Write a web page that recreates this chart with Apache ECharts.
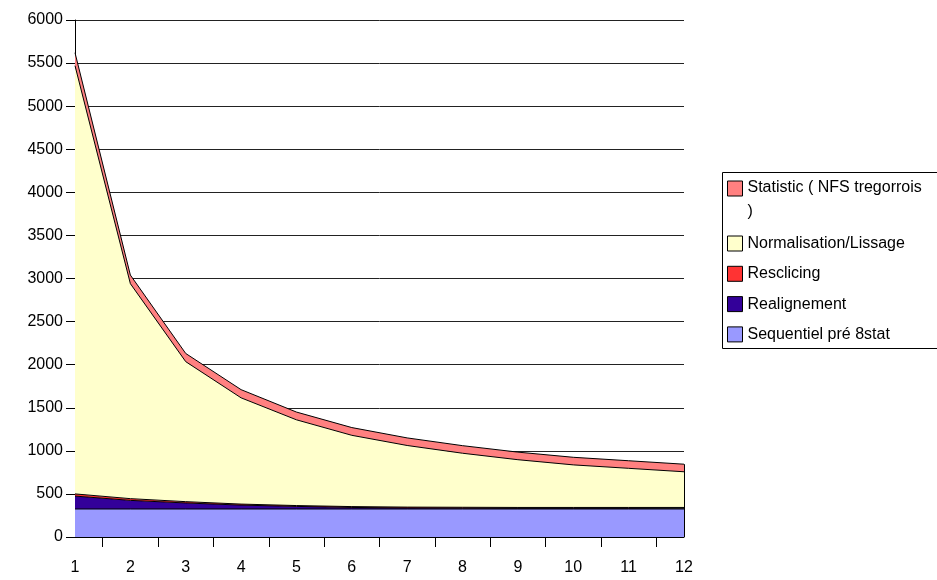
<!DOCTYPE html>
<html>
<head>
<meta charset="utf-8">
<script src="https://cdn.jsdelivr.net/npm/echarts@6/dist/echarts.min.js"></script>
<style>
html,body{margin:0;padding:0;background:#fff;}
#c{width:937px;height:580px;}
</style>
</head>
<body>
<div id="c"></div>
<script>
// ---- data ----
const categories = ['1','2','3','4','5','6','7','8','9','10','11','12'];
const seqValues = [325, 325, 325, 325, 325, 325, 325, 325, 325, 325, 325, 325];
const realignValues = [150, 100, 70, 45, 30, 18, 12, 10, 8, 8, 8, 8];
const resclicingValues = [25, 20, 15, 12, 10, 10, 10, 10, 10, 10, 10, 10];
const normalisationValues = [4970, 2495, 1625, 1233, 995, 827, 715, 627, 554, 494, 454, 414];
const statisticValues = [150, 100, 95, 95, 90, 90, 88, 88, 88, 88, 88, 88];
const yMin = 0, yMax = 6000, yStep = 500;

const seriesNames = ['Sequentiel pré 8stat', 'Realignement', 'Resclicing', 'Normalisation/Lissage', 'Statistic ( NFS tregorrois )'];
const seriesValues = [seqValues, realignValues, resclicingValues, normalisationValues, statisticValues];
const fills = ['#9999FF', '#330099', '#FF3333', '#FFFFCC', '#FF8080'];

// ---- helpers ----
const lastIdx = categories.length - 1;
const lastTotal = seriesValues.reduce((s, arr) => s + arr[lastIdx], 0);
// half-step category axis used only to place ticks between categories
const halfCats = [];
categories.forEach((c, i) => { halfCats.push(c); if (i < lastIdx) halfCats.push(''); });

const axisFont = "'Liberation Sans', Arial, sans-serif";
const legendFont = "'Liberation Sans', Arial, sans-serif";

const series = seriesNames.map((name, i) => {
  const s = {
    name: name,
    type: 'line',
    stack: 'total',
    data: seriesValues[i],
    symbol: 'none',
    smooth: false,
    lineStyle: { color: '#000', width: 1 },
    itemStyle: { color: fills[i] },
    areaStyle: { color: fills[i], opacity: 1 },
    emphasis: { disabled: true },
    silent: true,
    xAxisIndex: 0,
    yAxisIndex: 0
  };
  if (i === 0) {
    s.markLine = {
      silent: true,
      symbol: ['none', 'none'],
      label: { show: false },
      lineStyle: { color: '#000', width: 1, type: 'solid' },
      data: [[{ coord: [categories[lastIdx], 0] }, { coord: [categories[lastIdx], lastTotal] }]]
    };
  }
  return s;
});

const legendItem = (i) => ({
  name: seriesNames[i],
  itemStyle: { color: fills[i], borderColor: '#000', borderWidth: 1 }
});

const chart = echarts.init(document.getElementById('c'), null, { renderer: 'canvas' });
chart.setOption({
  animation: false,
  backgroundColor: '#fff',
  grid: { left: 75, right: 253, top: 20, bottom: 43, containLabel: false },
  xAxis: [
    {
      type: 'category',
      position: 'bottom',
      data: categories,
      boundaryGap: false,
      axisLine: { show: true, lineStyle: { color: '#000', width: 1 } },
      axisTick: { show: false },
      axisLabel: { color: '#000', fontSize: 16, fontFamily: axisFont, margin: 23, interval: 0 },
      splitLine: { show: false }
    },
    {
      type: 'category',
      position: 'bottom',
      data: halfCats,
      boundaryGap: false,
      axisLine: { show: false },
      axisTick: { show: true, length: 10, interval: (idx) => idx % 2 === 1, lineStyle: { color: '#000', width: 1 } },
      axisLabel: { show: false },
      splitLine: { show: false }
    }
  ],
  yAxis: {
    type: 'value',
    min: yMin, max: yMax, interval: yStep,
    axisLine: { show: true, lineStyle: { color: '#000', width: 1 } },
    axisTick: { show: true, length: 9, lineStyle: { color: '#000', width: 1 } },
    axisLabel: { color: '#000', fontSize: 16, fontFamily: axisFont, margin: 12, formatter: (v) => String(v) },
    splitLine: { show: true, lineStyle: { color: '#222', width: 1 } }
  },
  legend: [
    {
      orient: 'vertical',
      left: 727, top: 180,
      padding: 0,
      itemWidth: 15, itemHeight: 15,
      icon: 'rect',
      selectedMode: false,
      data: [legendItem(4)],
      formatter: () => '{a|Statistic ( NFS tregorrois}\n{b|)}',
      textStyle: {
        color: '#000', fontSize: 16, fontFamily: legendFont,
        rich: { a: { lineHeight: 46 }, b: { lineHeight: 1 } }
      }
    },
    {
      orient: 'vertical',
      left: 727, top: 232,
      padding: 0,
      itemWidth: 15, itemHeight: 15,
      itemGap: 7.3,
      icon: 'rect',
      selectedMode: false,
      data: [legendItem(3), legendItem(2), legendItem(1), legendItem(0)],
      textStyle: { color: '#000', fontSize: 16, fontFamily: legendFont, lineHeight: 23 }
    }
  ],
  graphic: [
    {
      type: 'rect',
      silent: true,
      shape: { x: 722.5, y: 172.5, width: 260, height: 176 },
      style: { fill: 'none', stroke: '#000', lineWidth: 1 }
    }
  ],
  series: series
});
</script>
</body>
</html>
